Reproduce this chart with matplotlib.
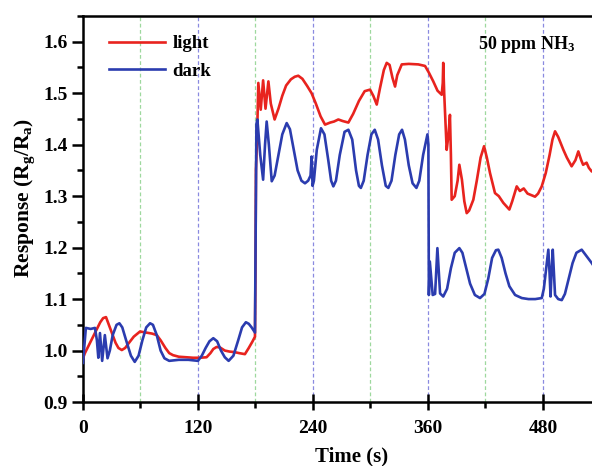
import matplotlib
matplotlib.use("Agg")
import matplotlib.pyplot as plt
from matplotlib.ticker import MultipleLocator

plt.rcParams['font.family'] = ['Liberation Serif', 'DejaVu Serif']
plt.rcParams['font.weight'] = 'bold'
plt.rcParams['mathtext.fontset'] = 'custom'
plt.rcParams['mathtext.rm'] = 'Liberation Serif:bold'
plt.rcParams['mathtext.it'] = 'Liberation Serif:bold:italic'
plt.rcParams['mathtext.bf'] = 'Liberation Serif:bold'

# ---- data ----
dark_t = [0, 1, 3, 8, 12.5, 14.5, 16, 17.7, 20, 22.8, 25.6, 28, 31, 35, 38, 41, 45, 50, 54, 58,
          62, 66, 70, 73, 77, 81, 85, 90, 100, 110, 120, 124, 128, 132, 136, 140, 144, 148, 152,
          157, 162, 166, 170, 173, 176, 179.5,
          180.5, 181, 182, 185, 188, 190, 191.7, 194, 197, 200, 204, 208, 212.6, 216, 220, 224,
          228, 231.7, 235, 237.5, 238.6, 239.6, 241, 244, 248.4, 252, 256, 259, 261.3, 264, 268,
          273, 277, 281, 285, 288, 290, 293, 297, 301, 304.5, 308, 312, 316, 318.7, 322, 326,
          330, 333, 336, 340, 344, 348, 351, 355, 359.5, 360.5,
          361, 362, 363.5, 365, 367.5, 369.9, 372.7, 376, 380, 384, 388, 392.8, 396, 400, 404,
          409, 414.4, 419, 423, 427, 431, 433.5, 437, 441, 445, 451, 458, 465, 472, 478.8, 481,
          485.7, 487, 488, 489, 490.3, 491.5, 492.7, 496, 499.7, 503, 507, 511, 515, 520.5, 525,
          531, 545]
dark_r = [0.976, 1.00, 1.044, 1.042, 1.044, 1.02, 0.986, 1.034, 0.98, 1.03, 0.985, 1.00, 1.03,
          1.05, 1.053, 1.045, 1.02, 0.99, 0.978, 0.99, 1.02, 1.045, 1.053, 1.05, 1.03, 1.0,
          0.985, 0.98, 0.982, 0.982, 0.98, 0.99, 1.005, 1.018, 1.024, 1.018, 1.0, 0.987, 0.98,
          0.99, 1.02, 1.045, 1.055, 1.052, 1.045, 1.035,
          1.30, 1.44, 1.449, 1.38, 1.332, 1.40, 1.445, 1.40, 1.329, 1.34, 1.38, 1.42, 1.442,
          1.43, 1.39, 1.35, 1.33, 1.325, 1.33, 1.34, 1.377, 1.32, 1.33, 1.39, 1.432, 1.42, 1.37,
          1.33, 1.319, 1.33, 1.38, 1.425, 1.429, 1.41, 1.35, 1.32, 1.316, 1.33, 1.38, 1.42,
          1.429, 1.41, 1.36, 1.32, 1.316, 1.33, 1.38, 1.42, 1.429, 1.41, 1.36, 1.325, 1.316,
          1.33, 1.38, 1.42, 1.40,
          1.108, 1.173, 1.14, 1.108, 1.11, 1.199, 1.111, 1.105, 1.12, 1.16, 1.19, 1.199, 1.19,
          1.16, 1.13, 1.108, 1.102, 1.11, 1.14, 1.18, 1.195, 1.196, 1.18, 1.15, 1.125, 1.108,
          1.102, 1.10, 1.10, 1.102, 1.12, 1.196, 1.15, 1.105, 1.15, 1.196, 1.15, 1.108, 1.10,
          1.098, 1.11, 1.14, 1.17, 1.19, 1.196, 1.185, 1.17, 1.13]

light_t = [0, 2, 6, 10, 14, 18, 21, 24, 27, 30, 34, 37, 40.5, 44, 48, 53, 59.5, 66, 72, 77, 81,
           86, 90, 94, 100, 108, 115, 122, 129, 133, 136, 139.5, 143, 148, 153, 158, 163, 169,
           173, 177, 179.5,
           180, 180.5, 181.5, 183, 185.5, 188, 190.5, 193.5, 196, 200, 204, 208, 212, 217, 221,
           224.7, 229, 234, 238.6, 243, 248, 252.6, 258, 262, 266.5, 271, 277, 282, 288, 294,
           299.6, 303, 306.6, 310, 314, 317, 320, 323, 325.7, 328, 332.7, 340, 350, 357, 361,
           365.6, 370, 374.4, 375.5, 376, 377, 377.9, 379.6, 381.5, 383, 384, 384.8, 388, 391,
           392.8, 395.5, 398, 400.5, 403, 407.4, 411, 415, 418.6, 421.5, 424.8, 430, 434, 438.7,
           445, 448, 452.7, 456, 460, 464, 468, 471.8, 475, 478.8, 483, 487, 490, 492.7, 496,
           501.4, 505, 510, 514, 517, 520, 522, 525.6, 528, 531, 545]
light_r = [0.985, 0.995, 1.01, 1.025, 1.04, 1.055, 1.063, 1.065, 1.05, 1.035, 1.015, 1.005,
           1.001, 1.005, 1.015, 1.027, 1.037, 1.035, 1.033, 1.03, 1.02, 1.005, 0.995, 0.991,
           0.988, 0.987, 0.986, 0.986, 0.987, 0.995, 1.003, 1.007, 1.006, 1.0, 0.998, 0.997,
           0.995, 0.993, 1.005, 1.018, 1.027,
           1.15, 1.351, 1.40, 1.52, 1.468, 1.525, 1.47, 1.523, 1.48, 1.449, 1.47, 1.495, 1.515,
           1.527, 1.532, 1.534, 1.528, 1.514, 1.500, 1.48, 1.455, 1.439, 1.443, 1.445, 1.449,
           1.446, 1.443, 1.46, 1.485, 1.504, 1.507, 1.495, 1.478, 1.51, 1.545, 1.559, 1.555,
           1.53, 1.513, 1.535, 1.556, 1.557, 1.556, 1.553, 1.54, 1.523, 1.505, 1.497, 1.52,
           1.559, 1.50, 1.462, 1.39, 1.42, 1.458, 1.38, 1.293, 1.30, 1.33, 1.361, 1.332, 1.29,
           1.267, 1.272, 1.293, 1.33, 1.375, 1.397, 1.375, 1.345, 1.306, 1.30, 1.287, 1.274,
           1.29, 1.319, 1.31, 1.315, 1.305, 1.302, 1.299, 1.305, 1.319, 1.345, 1.38, 1.41,
           1.426, 1.415, 1.39, 1.375, 1.358, 1.37, 1.387, 1.37, 1.361, 1.365, 1.355, 1.348, 1.35]

blue_marks = [120, 240, 360, 480]
green_marks = [60, 180, 300, 420, 540]
x_ticks = [0, 120, 240, 360, 480]
y_ticks = [0.9, 1.0, 1.1, 1.2, 1.3, 1.4, 1.5, 1.6]

fig = plt.figure(figsize=(5.92, 4.66), dpi=100)
ax = fig.add_axes([0.1402, 0.1373, 0.9063, 0.8283])

for m in blue_marks:
    ax.axvline(m, color='#8a8ae0', lw=0.9, ls=(0, (3, 2)), zorder=1)
for m in green_marks:
    ax.axvline(m, color='#9ed89e', lw=0.9, ls=(0, (3, 2)), zorder=1)

ax.plot(light_t, light_r, color='#e8231e', lw=1.9, label='light', zorder=3)
ax.plot(dark_t, dark_r, color='#2b3caf', lw=1.9, label='dark', zorder=3)

ax.set_xlim(0, 560)
ax.set_ylim(0.9, 1.65)
ax.set_xticks(x_ticks)
ax.set_yticks(y_ticks)
ax.set_yticklabels([f'{v:.1f}' for v in y_ticks])
ax.xaxis.set_minor_locator(MultipleLocator(60))
ax.yaxis.set_minor_locator(MultipleLocator(0.05))

for s in ax.spines.values():
    s.set_linewidth(1.8)
ax.tick_params(axis='x', which='major', direction='inout', length=12, width=1.8,
               labelsize=14, pad=7, top=False)
ax.tick_params(axis='x', which='minor', direction='out', length=4, width=1.8, top=False)
ax.tick_params(axis='y', which='major', direction='out', length=8, width=1.8,
               labelsize=14, pad=3, right=False)
ax.tick_params(axis='y', which='minor', direction='out', length=4, width=1.8, right=False)

ax.set_xlabel('Time (s)', fontsize=15, fontweight='bold', labelpad=7)
ax.set_ylabel(r'Response (R$_\mathrm{g}$/R$_\mathrm{a}$)', fontsize=15.5,
              fontweight='bold', labelpad=6)
ax.yaxis.set_label_coords(-0.085, 0.53)

ax.legend(loc='upper left', bbox_to_anchor=(0.048, 0.95), frameon=False,
          fontsize=13.5, handlelength=3.0, handletextpad=0.4, labelspacing=0.55,
          borderpad=0, borderaxespad=0)

ax.text(412, 1.585, r'50 ppm NH$_3$', fontsize=13, fontweight='bold', va='baseline')

fig.savefig('out.png', dpi=100)
